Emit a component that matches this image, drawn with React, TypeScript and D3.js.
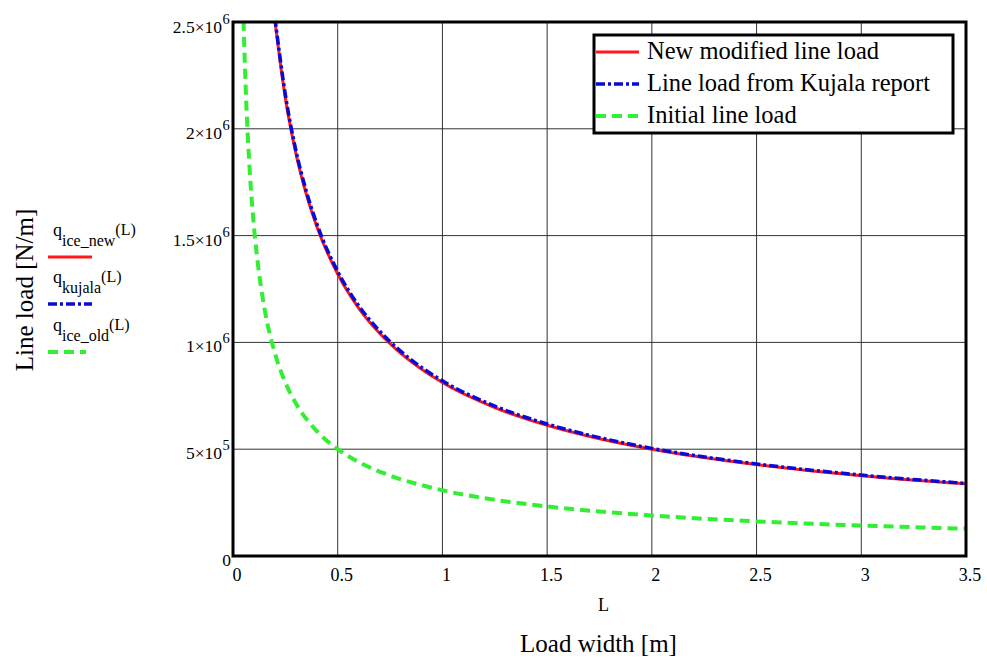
import React from "react";
import * as d3 from "d3";

const W = 987;
const H = 658;

// Load width L [m] samples and line loads [N/m]
const newL = [0.2, 0.25, 0.3, 0.35, 0.4, 0.5, 0.6, 0.7, 0.8, 1.0, 1.25, 1.5, 1.75, 2.0, 2.5, 3.0, 3.5];
const newQ = [2506000, 2144000, 1887000, 1694000, 1543000, 1320000, 1161000, 1043000, 950000, 812000, 695000, 612000, 549000, 500000, 428000, 376000, 338000];

const kujalaL = [0.2, 0.25, 0.3, 0.35, 0.4, 0.5, 0.6, 0.7, 0.8, 1.0, 1.25, 1.5, 1.75, 2.0, 2.5, 3.0, 3.5];
const kujalaQ = [2520000, 2160000, 1900000, 1708000, 1556000, 1332000, 1172000, 1053000, 959000, 820000, 702000, 618000, 554000, 504000, 431000, 379000, 340000];

const oldL = [0.05, 0.06, 0.08, 0.1, 0.125, 0.15, 0.2, 0.25, 0.3, 0.4, 0.5, 0.6, 0.75, 1.0, 1.25, 1.5, 2.0, 2.5, 3.0, 3.5];
const oldQ = [2506000, 2206000, 1803000, 1543000, 1320000, 1161000, 950000, 812000, 715000, 585000, 500000, 440000, 377000, 308000, 263000, 232000, 189500, 162000, 142600, 128000];

const xTicks = [0, 0.5, 1, 1.5, 2, 2.5, 3, 3.5];
const xTickLabels = ["0", "0.5", "1", "1.5", "2", "2.5", "3", "3.5"];
const yTicks = [0, 500000, 1000000, 1500000, 2000000, 2500000];
const yTickMantissa = ["0", "5", "1", "1.5", "2", "2.5"];
const yTickExp = ["", "5", "6", "6", "6", "6"];

const legendLabels = ["New modified line load", "Line load from Kujala report", "Initial line load"];
const seriesNames = [
  { base: "q", sub: "ice_new" },
  { base: "q", sub: "kujala" },
  { base: "q", sub: "ice_old" },
];

const colors = ["#ff1a1a", "#0a0ad8", "#33ee33"];
const dashes = ["none", "9 3 3 3", "10 6"];
const widths = [3, 3.5, 4];

const FONT = "Liberation Serif";
const ts: React.CSSProperties = { fontFamily: FONT };

export default function App() {
  const left = 233, right = 966, top = 22, bottom = 556;
  const x = d3.scaleLinear().domain([0, 3.5]).range([left, right]);
  const y = d3.scaleLinear().domain([0, 2500000]).range([bottom, top]);

  const line = d3
    .line<[number, number]>()
    .x((d) => x(d[0]))
    .y((d) => y(d[1]))
    .curve(d3.curveMonotoneX);

  const series = [
    newL.map((l, i) => [l, newQ[i]] as [number, number]),
    kujalaL.map((l, i) => [l, kujalaQ[i]] as [number, number]),
    oldL.map((l, i) => [l, oldQ[i]] as [number, number]),
  ];

  const legendYs = [257, 304, 352];

  return (
    <svg width={W} height={H} style={{ position: "absolute", left: 0, top: 0, background: "#fff" }}>
      <rect x={0} y={0} width={W} height={H} fill="#fff" />
      <defs>
        <clipPath id="plot">
          <rect x={left} y={top} width={right - left} height={bottom - top} />
        </clipPath>
      </defs>
      {/* grid */}
      {xTicks.map((t, i) => (
        <line key={"gx" + i} x1={x(t)} x2={x(t)} y1={top} y2={bottom} stroke="#333" strokeWidth={1} />
      ))}
      {yTicks.map((t, i) => (
        <line key={"gy" + i} x1={left} x2={right} y1={y(t)} y2={y(t)} stroke="#333" strokeWidth={1} />
      ))}
      {/* curves */}
      <g clipPath="url(#plot)">
        {series.map((s, i) => (
          <path
            key={"s" + i}
            d={line(s) || ""}
            fill="none"
            stroke={colors[i]}
            strokeWidth={widths[i]}
            strokeDasharray={dashes[i]}
          />
        ))}
      </g>
      {/* frame */}
      <rect x={left} y={top} width={right - left} height={bottom - top} fill="none" stroke="#000" strokeWidth={3} />
      {/* y ticks */}
      {yTicks.map((t, i) => {
        const base = Math.max(y(t) + 10, top + 11);
        return (
          <g key={"yl" + i}>
            <text style={ts} x={yTickExp[i] ? 222 : 231} y={base} fontSize={17.5} textAnchor="end" fill="#000">
              {yTickExp[i] ? yTickMantissa[i] + "×10" : yTickMantissa[i]}
            </text>
            {yTickExp[i] ? (
              <text style={ts} x={222.5} y={base - 9} fontSize={14.5} textAnchor="start" fill="#000">
                {yTickExp[i]}
              </text>
            ) : null}
          </g>
        );
      })}
      {/* x ticks */}
      {xTicks.map((t, i) => (
        <text key={"xl" + i} style={ts} x={x(t) + 4} y={581} fontSize={18} textAnchor="middle" fill="#000">
          {xTickLabels[i]}
        </text>
      ))}
      <text style={ts} x={598} y={611} fontSize={18} fill="#000">L</text>
      <text style={ts} x={598.5} y={652} fontSize={25} textAnchor="middle" fill="#000">
        Load width [m]
      </text>
      <text style={ts} transform={`translate(33,290) rotate(-90)`} fontSize={25} textAnchor="middle" fill="#000">
        Line load [N/m]
      </text>
      {/* left series legend */}
      {seriesNames.map((s, i) => (
        <g key={"ln" + i}>
          <text style={ts} x={53} y={legendYs[i] - 21} fontSize={18} fill="#000">
            {s.base}
            <tspan fontSize={16} dy={10}>{s.sub}</tspan>
            <tspan fontSize={16} dy={-11}>(L)</tspan>
          </text>
          <line
            x1={48}
            x2={i === 2 ? 86 : 92}
            y1={legendYs[i]}
            y2={legendYs[i]}
            stroke={colors[i]}
            strokeWidth={widths[i]}
            strokeDasharray={dashes[i]}
          />
        </g>
      ))}
      {/* top-right legend */}
      <rect x={594} y={35} width={359} height={98} fill="#fff" stroke="#000" strokeWidth={3} />
      {legendLabels.map((lab, i) => (
        <g key={"lg" + i}>
          <line
            x1={596}
            x2={639}
            y1={52 + i * 32}
            y2={52 + i * 32}
            stroke={colors[i]}
            strokeWidth={widths[i]}
            strokeDasharray={dashes[i]}
          />
          <text style={ts} x={647} y={59 + i * 32} fontSize={24.5} fill="#000">
            {lab}
          </text>
        </g>
      ))}
    </svg>
  );
}
